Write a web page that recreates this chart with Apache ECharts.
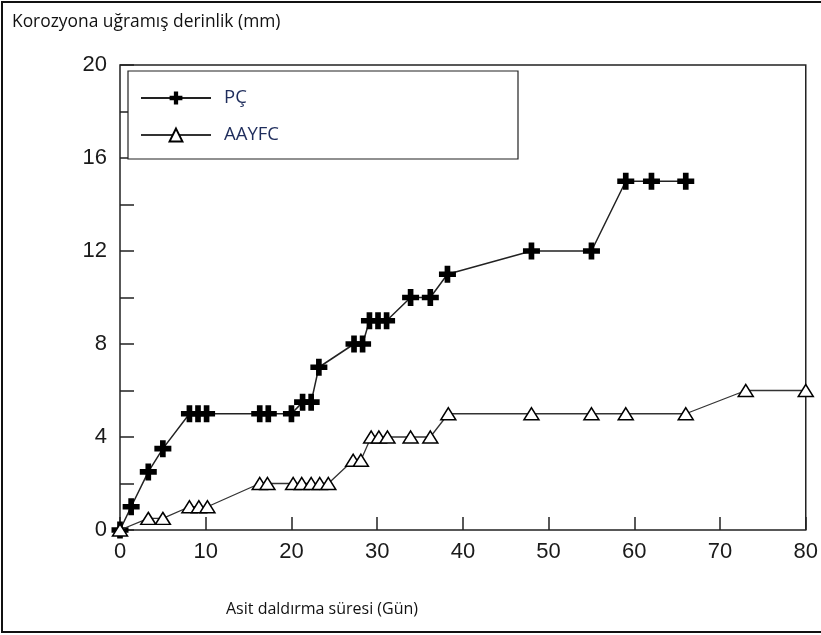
<!DOCTYPE html>
<html>
<head>
<meta charset="utf-8">
<script src="https://cdn.jsdelivr.net/npm/echarts@6/dist/echarts.min.js"></script>
<style>
  html, body { margin: 0; padding: 0; background: #fff; }
  #chart { width: 821px; height: 635px; }
</style>
</head>
<body>
<div id="chart"></div>
<script>
// Immersion time (days) and corroded depth (mm) for each specimen type
const pcDays   = [0, 1.3, 3.3, 5.0, 8.1, 9.1, 10.1, 16.3, 17.3, 20.0, 21.3, 22.3, 23.2, 27.3, 28.3, 29.1, 30.1, 31.1, 33.9, 36.2, 38.2, 48, 55, 59, 62, 66];
const pcDepth  = [0, 1, 2.5, 3.5, 5, 5, 5, 5, 5, 5, 5.5, 5.5, 7, 8, 8, 9, 9, 9, 10, 10, 11, 12, 12, 15, 15, 15];

const aayfcDays  = [0, 3.3, 5.0, 8.1, 9.2, 10.2, 16.3, 17.2, 20.2, 21.2, 22.3, 23.3, 24.3, 27.2, 28.1, 29.3, 30.2, 31.2, 33.9, 36.2, 38.3, 48, 55, 59, 66, 73, 80];
const aayfcDepth = [0, 0.5, 0.5, 1, 1, 1, 2, 2, 2, 2, 2, 2, 2, 3, 3, 4, 4, 4, 4, 4, 5, 5, 5, 5, 5, 6, 6];

const seriesNames = ['PÇ', 'AAYFC'];
const yTitle = 'Korozyona uğramış derinlik (mm)';
const xTitle = 'Asit daldırma süresi (Gün)';

const pairs = (xs, ys) => xs.map((x, i) => [x, ys[i]]);

// bold plus marker
const plusPath = 'path://M-1,-3 L1,-3 L1,-1 L3,-1 L3,1 L1,1 L1,3 L-1,3 L-1,1 L-3,1 L-3,-1 L-1,-1 Z';

const chart = echarts.init(document.getElementById('chart'));
const tickFont = { fontFamily: 'Liberation Sans, Arial, sans-serif', fontSize: 22, color: '#1a1a1a' };
const textFont = { fontFamily: 'Open Sans', fontWeight: 'normal', color: '#111' };
const tickLine = { color: '#222', width: 1.5 };

chart.setOption({
  animation: false,
  backgroundColor: '#fff',
  title: [
    { text: yTitle, left: 7, top: 9,
      textStyle: Object.assign({ fontSize: 17.4 }, textFont) },
    { text: xTitle, left: 221, top: 596,
      textStyle: Object.assign({ fontSize: 16 }, textFont) }
  ],
  grid: { left: 120, right: 13, top: 65, bottom: 105, show: true,
          borderColor: '#222', borderWidth: 1.5, backgroundColor: 'transparent' },
  legend: {
    orient: 'vertical', left: 140, top: 88, itemGap: 17, padding: 0,
    itemWidth: 70, itemHeight: 16,
    data: seriesNames,
    textStyle: { fontFamily: 'Open Sans', fontSize: 18.5, lineHeight: 16, color: '#1f2d5c', padding: [4, 0, 0, 8] }
  },
  xAxis: {
    type: 'value', min: 0, max: 80, interval: 10,
    axisLine: { show: false },
    axisTick: { show: true, inside: true, length: 13, lineStyle: tickLine },
    axisLabel: Object.assign({ margin: 11 }, tickFont),
    splitLine: { show: false }
  },
  yAxis: [
    {
      // labelled scale: every 4 mm
      type: 'value', min: 0, max: 20, interval: 4,
      axisLine: { show: false },
      axisTick: { show: false },
      axisLabel: Object.assign({ margin: 13 }, tickFont),
      splitLine: { show: false }
    },
    {
      // tick marks: every 2 mm, drawn inside the frame
      type: 'value', position: 'left', min: 0, max: 20, interval: 2,
      axisLine: { show: false },
      axisTick: { show: true, inside: true, length: 14, lineStyle: tickLine },
      axisLabel: { show: false },
      splitLine: { show: false }
    }
  ],
  graphic: [
    { type: 'rect', shape: { x: 128, y: 71, width: 390, height: 88 },
      style: { fill: '#fff', stroke: '#222', lineWidth: 1.2 }, z: 1 },
    { type: 'rect', shape: { x: 2, y: 2, width: 820, height: 630 },
      style: { fill: 'none', stroke: '#111', lineWidth: 2 }, z: 100, silent: true }
  ],
  series: [
    {
      name: seriesNames[0], type: 'line', data: pairs(pcDays, pcDepth),
      symbol: plusPath, symbolSize: 17, showAllSymbol: true,
      lineStyle: { color: '#222', width: 1.5 },
      itemStyle: { color: '#000', borderWidth: 0 }, z: 3
    },
    {
      name: seriesNames[1], type: 'line', data: pairs(aayfcDays, aayfcDepth),
      symbol: 'triangle', symbolSize: [15, 12], showAllSymbol: true,
      lineStyle: { color: '#333', width: 1.3 },
      itemStyle: { color: '#fff', borderColor: '#000', borderWidth: 1.5 }, z: 4
    }
  ]
});
</script>
</body>
</html>
